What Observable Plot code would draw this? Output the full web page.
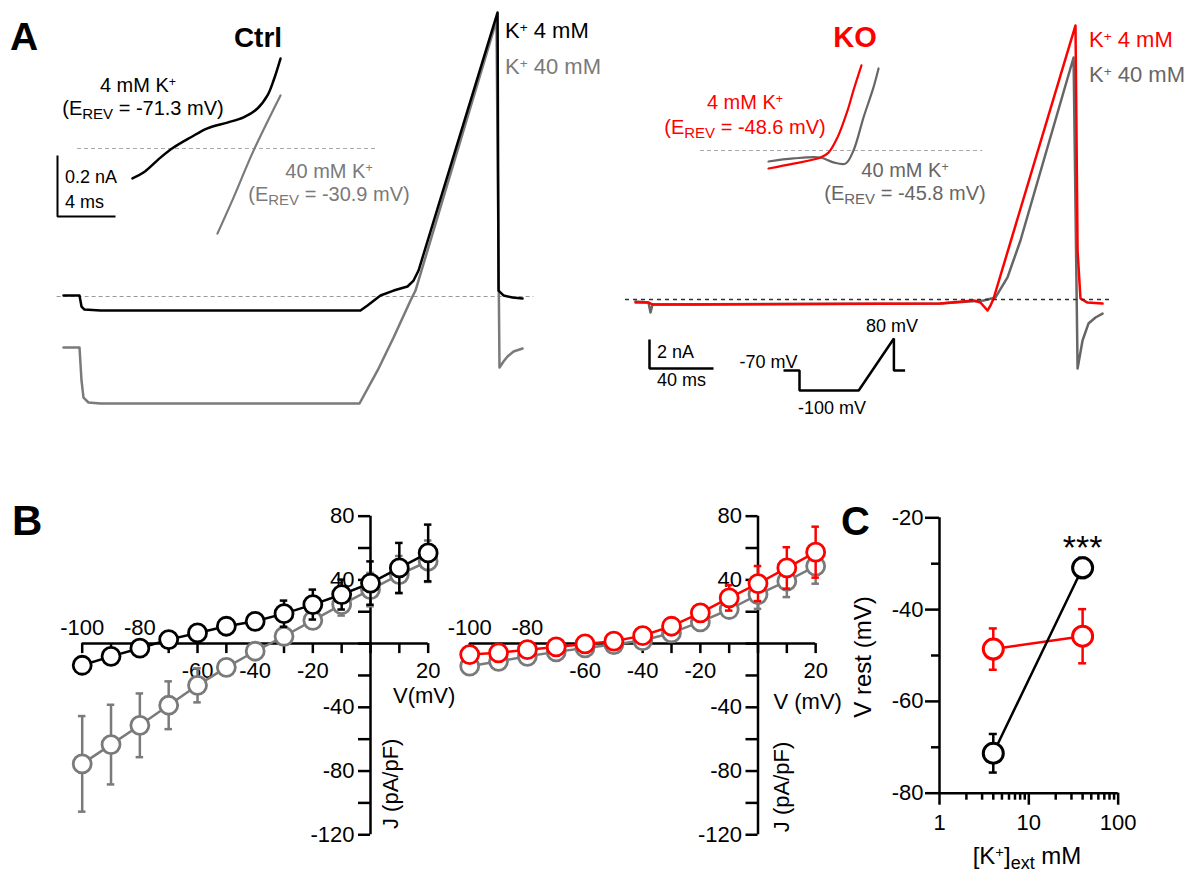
<!DOCTYPE html>
<html><head><meta charset="utf-8">
<script src="https://cdn.jsdelivr.net/npm/d3@7"></script>
<script src="https://cdn.jsdelivr.net/npm/@observablehq/plot@0.6"></script>
<style>
body{margin:0;background:#fff}
#fig{position:relative;width:1200px;height:873px;background:#fff;font-family:"Liberation Sans",Arial,sans-serif;overflow:hidden}
.lbl{position:absolute;white-space:nowrap;line-height:1}
.sup{position:relative;top:-0.45em;font-size:0.62em}
.sub{position:relative;top:0.25em;font-size:0.75em}
</style></head><body><div id="fig"></div><script>
// ---------------- DATA ----------------
// Panel A – whole-cell currents (time in ms, current in nA)
const ctrl4_t   = [0,10,11.25,13.1,23.1,185.6,190,198.1,206.3,215,218.8,221.9,271.3,271.9,275,280.6,286.9];
const ctrl4_nA  = [0.07,0.07,-0.69,-0.9,-0.97,-0.97,-0.62,0.07,0.41,0.69,1.1,1.79,19.59,0.41,0.07,-0.07,-0.14];
const ctrl40_t  = [0,10,11.25,12.5,15.6,23.1,185,196.3,206.3,216.9,220,270.6,272.5,275,277.5,281.3,286.9];
const ctrl40_nA = [-3.52,-3.52,-5.79,-6.97,-7.31,-7.38,-7.38,-5.1,-2.83,-0.28,0.41,19.03,-4.9,-4.48,-4.14,-3.79,-3.59];
const ko4_t     = [0,8.1,10.6,40.6,190.6,211.3,215.6,220,221.9,223.8,275,276.3,278.1,282.5,291.9];
const ko4_nA    = [-0.21,-0.21,-0.34,-0.34,-0.28,-0.07,-0.21,-0.76,-0.41,0.07,18.9,3.38,0.07,-0.21,-0.28];
const ko40_t    = [0,8.1,9.4,10.6,190.6,217.5,225,232.5,240.6,273.8,276.3,279.4,283.1,287.5,291.9];
const ko40_nA   = [-0.14,-0.21,-0.9,-0.34,-0.28,-0.07,0.14,1.52,4.07,16.69,-4.76,-2.83,-1.66,-1.24,-0.97];
// insets around the reversal potential (ms, nA)
const ctrl4In_t   = [5.17,5.93,7.1,8.0,9.17,10.34,11.72,12.83,13.79,14.48,14.9,15.38];
const ctrl4In_nA  = [-0.098,-0.079,-0.030,0.003,0.036,0.066,0.085,0.102,0.131,0.174,0.223,0.295];
const ctrl40In_t  = [11.03,12.14,13.52,15.38];
const ctrl40In_nA = [-0.279,-0.161,-0.007,0.174];
const ko4In_t     = [4.69,6.41,8.28,8.83,9.45,10.14,10.55,11.1];
const ko4In_nA    = [-0.059,-0.043,-0.023,-0.007,0.043,0.131,0.197,0.279];
const ko40In_t    = [4.69,6.41,8.28,9.17,10.0,10.55,11.24,11.93,12.28];
const ko40In_nA   = [-0.036,-0.026,-0.023,-0.039,-0.043,0,0.108,0.207,0.269];
// voltage protocol (schematic)
const protoT  = [0,10,10,47,69,69,76];
const protoMV = [-70,-70,-100,-100,80,-70,-70];
// scale bars
const mainBar  = {ms: 40, nA: 2};
const insetBar = {ms: 4, nA: 0.2};

// Panel B – I/V relations (mV, pA/pF)
const voltages   = [-100,-90,-80,-70,-60,-50,-40,-30,-20,-10,0,10,20];
const ctrl4_J    = [-13.6,-8,-2.9,2.5,6.7,10.9,14,18.8,24.5,30.8,38,47.5,56.9];
const ctrl4_err  = [2,2,2,2,2.5,3,5.2,8.2,9.4,9.4,13.6,15.7,17.8];
const ctrl40_J   = [-75.5,-63.4,-51.3,-38.7,-26.2,-14.9,-4.8,4.6,14.6,24.5,33.9,43.3,51.7];
const ctrl40_err = [30,25,20,15,10.7,3.5,2,2,3,6.9,10.5,11.7,13];
const ko4_J      = [-6.9,-5.8,-3.8,-2.1,-0.2,1.5,5,10.9,19.3,28.7,37.7,47.5,57.4];
const ko4_err    = [2,2,2,2,2,2,2,2,4,8,11,13,16];
const ko40_J     = [-14.2,-11.1,-8,-5.2,-2.7,-0.6,1.9,6.7,13.6,21.4,30.8,39.2,48.6];
const ko40_err   = [5,4,2,2,2,2,2,2,2,5,9,10,11];
const vTicks       = [-100,-90,-80,-70,-60,-50,-40,-30,-20,-10,0,10,20];
const vLabelsAbove = [-100,-80];
const vLabelsBelow = [-60,-40,-20,20];
const jTicks       = [-120,-100,-80,-60,-40,-20,0,20,40,60,80];
const jLabels      = [80,40,-40,-80,-120];

// Panel C – resting potential vs [K+]ext
const kExt        = [4, 40];
const ctrlVrest   = [-71.3, -30.9];
const ctrlVrestSE = [4.2, 2.2];
const koVrest     = [-48.6, -45.8];
const koVrestSE   = [4.5, 5.9];
const cYMajor = [-20,-40,-60,-80];
const cYMinor = [-30,-50,-70];
const cXMajor = [1,10,100];
const cXMinor = [2,3,4,5,6,7,8,9,20,30,40,50,60,70,80,90];

// ---------------- DRAWING ----------------
const FONT = '"Liberation Sans", Arial, sans-serif';
const RED = "#ff0000", GRAY = "#7a7a7a", GRAY2 = "#666";
const fig = document.getElementById("fig");
const rows = (t, v) => t.map((d, i) => ({t: d, v: v[i]}));
function put(svg, left, top) {
  svg.style.position = "absolute"; svg.style.left = left + "px"; svg.style.top = top + "px";
  fig.appendChild(svg);
}
function linPlot(box, x0, y0, kx, ky, marks) {
  const {left, top, width, height} = box;
  const svg = Plot.plot({
    width, height, margin: 0,
    x: {domain: [(left - x0) / kx, (left + width - x0) / kx], range: [0, width], axis: null},
    y: {domain: [(y0 - top - height) / ky, (y0 - top) / ky], range: [height, 0], axis: null},
    style: {background: "transparent", overflow: "visible", fontFamily: FONT},
    marks
  });
  put(svg, left, top);
}
function bar(t0, v0, b, sw) {
  return Plot.line([{t: t0, v: v0 + b.nA}, {t: t0, v: v0}, {t: t0 + b.ms, v: v0}],
    {x: "t", y: "v", stroke: "#000", strokeWidth: sw, strokeLinejoin: "miter", strokeLinecap: "butt"});
}
const tr = (t, v, stroke, sw, curve = "linear") => Plot.line(rows(t, v), {x: "t", y: "v", stroke, strokeWidth: sw, curve});

// A – Ctrl main traces
linPlot({left: 40, top: 0, width: 520, height: 430}, 63, 296, 1.6, 14.5, [
  Plot.ruleY([0], {x1: -4, x2: 294, stroke: "#999", strokeWidth: 1, strokeDasharray: "4,3"}),
  tr(ctrl40_t, ctrl40_nA, GRAY, 2.5),
  tr(ctrl4_t, ctrl4_nA, "#000", 2.5)
]);
// A – Ctrl inset
linPlot({left: 40, top: 40, width: 360, height: 210}, 57, 148, 14.5, 305, [
  Plot.ruleY([0], {x1: 1.38, x2: 22.14, stroke: "#aaa", strokeWidth: 1, strokeDasharray: "4,3"}),
  tr(ctrl40In_t, ctrl40In_nA, GRAY, 2.2, "catmull-rom"),
  tr(ctrl4In_t, ctrl4In_nA, "#000", 2.5, "catmull-rom"),
  bar(0, -0.223, insetBar, 2)
]);
// A – KO main traces
linPlot({left: 600, top: 0, width: 540, height: 430}, 635, 299, 1.6, 14.5, [
  tr(ko40_t, ko40_nA, GRAY2, 2.5),
  tr(ko4_t, ko4_nA, RED, 2.5),
  Plot.ruleY([0], {x1: -6.25, x2: 298, stroke: "#333", strokeWidth: 1.6, strokeDasharray: "4,4"}),
  bar(8.75, -4.76, mainBar, 2.5)
]);
// A – KO inset
linPlot({left: 690, top: 40, width: 310, height: 150}, 700, 150, 14.5, 305, [
  Plot.ruleY([0], {x1: 0, x2: 19.45, stroke: "#aaa", strokeWidth: 1, strokeDasharray: "4,3"}),
  tr(ko40In_t, ko40In_nA, GRAY2, 2.2, "catmull-rom"),
  tr(ko4In_t, ko4In_nA, RED, 2.2, "catmull-rom")
]);
// A – voltage protocol (schematic, not to scale: steps drawn larger than the ramp)
{
  const left = 770, top = 318, width = 170, height = 100;
  const proto = protoT.map((t, i) => ({t, mV: protoMV[i]}));
  const level = v => v <= -70 ? (v + 100) * 20 / 30 : 20 + (v + 70) * 32 / 150;
  const svg = Plot.plot({
    width, height, margin: 0,
    x: {domain: [(left - 783) / 1.6, (left + width - 783) / 1.6], range: [0, width], axis: null},
    y: {transform: level, domain: [0, 52], range: [72, 20], axis: null},
    style: {background: "transparent", overflow: "visible", fontFamily: FONT},
    marks: [
      Plot.line(proto, {x: "t", y: "mV", stroke: "#000", strokeWidth: 2.5, strokeLinejoin: "miter", strokeLinecap: "butt"}),
      Plot.text([proto[0]], {x: "t", y: "mV", text: d => d.mV + " mV", dx: -15, dy: -8, fontSize: 18}),
      Plot.text([proto[4]], {x: "t", y: "mV", text: d => d.mV + " mV", dx: -2, dy: -12, fontSize: 18}),
      Plot.text([{t: (proto[2].t + proto[3].t) / 2, mV: proto[2].mV}], {x: "t", y: "mV", text: d => d.mV + " mV", dx: 3, dy: 18, fontSize: 18})
    ]
  });
  put(svg, left, top);
}

// B – I/V panels
function ivPanel(left, width, x0, series, vText, vdx, vdy, jdx, jy) {
  const kx = 2.883, ky = 1.593, y0 = 643.1, top = 500, height = 373;
  const marks = [
    Plot.ruleY([0], {x1: vTicks[0], x2: vTicks[vTicks.length - 1], strokeWidth: 2.5}),
    Plot.ruleX(vTicks, {x: d => d, y1: 0, y2: -10 / ky, strokeWidth: 2.5}),
    Plot.ruleX([0], {y1: jTicks[0], y2: jTicks[jTicks.length - 1], strokeWidth: 2.5}),
    Plot.ruleY(jTicks, {y: d => d, x1: 0, x2: -12 / kx, strokeWidth: 2.5}),
    Plot.text(vLabelsAbove, {x: d => d, y: 0, text: d => String(d), dy: -16, fontSize: 22}),
    Plot.text(vLabelsBelow, {x: d => d, y: 0, text: d => String(d), dy: 27, fontSize: 22}),
    Plot.text(jLabels, {x: 0, y: d => d, text: d => String(d), dx: -16, textAnchor: "end", fontSize: 22}),
    Plot.text([vText], {x: 20, y: 0, text: d => d, dx: vdx, dy: vdy, fontSize: 22}),
    Plot.text(["J (pA/pF)"], {x: 0, y: jy, text: d => d, dx: jdx, rotate: -90, fontSize: 22})
  ];
  for (const s of series) {
    const d = voltages.map((v, i) => ({v, J: s.J[i], e: s.err[i]}));
    marks.push(
      Plot.ruleX(d, {x: "v", y1: d => d.J - d.e, y2: d => d.J + d.e, stroke: s.color, strokeWidth: 2.5}),
      Plot.ruleY(d, {y: d => d.J + d.e, x1: d => d.v - 1.3, x2: d => d.v + 1.3, stroke: s.color, strokeWidth: 2.5}),
      Plot.ruleY(d, {y: d => d.J - d.e, x1: d => d.v - 1.3, x2: d => d.v + 1.3, stroke: s.color, strokeWidth: 2.5}),
      Plot.line(d, {x: "v", y: "J", stroke: s.color, strokeWidth: 2.5}),
      Plot.dot(d, {x: "v", y: "J", r: 9, fill: "white", stroke: s.color, strokeWidth: 2.8})
    );
  }
  linPlot({left, top, width, height}, x0, y0, kx, ky, marks);
}
ivPanel(40, 440, 370, [{J: ctrl40_J, err: ctrl40_err, color: GRAY}, {J: ctrl4_J, err: ctrl4_err, color: "#000"}], "V(mV)", -4, 52, 20, -88);
ivPanel(440, 420, 757.5, [{J: ko40_J, err: ko40_err, color: GRAY}, {J: ko4_J, err: ko4_err, color: RED}], "V (mV)", -8, 58, 24, -90);

// C – V rest vs [K+]
{
  const left = 840, top = 500, width = 310, height = 373;
  const xAt = p => 10 ** ((p - 939) / 89.33);
  const vAt = p => -20 - (p - 517.3) / 4.59;
  const ky = 4.59, dec = 89.33;
  const ser = (V, E, color) => {
    const d = kExt.map((k, i) => ({k, v: V[i], e: E[i]}));
    const f = 10 ** (4 / dec);
    return [
      Plot.ruleX(d, {x: "k", y1: d => d.v - d.e, y2: d => d.v + d.e, stroke: color, strokeWidth: 2.5}),
      Plot.ruleY(d, {y: d => d.v + d.e, x1: d => d.k / f, x2: d => d.k * f, stroke: color, strokeWidth: 2.5}),
      Plot.ruleY(d, {y: d => d.v - d.e, x1: d => d.k / f, x2: d => d.k * f, stroke: color, strokeWidth: 2.5}),
      Plot.line(d, {x: "k", y: "v", stroke: color, strokeWidth: 2.5}),
      Plot.dot(d, {x: "k", y: "v", r: 10, fill: "white", stroke: color, strokeWidth: 3})
    ];
  };
  const svg = Plot.plot({
    width, height, margin: 0,
    x: {type: "log", domain: [xAt(left), xAt(left + width)], range: [0, width], axis: null},
    y: {domain: [vAt(top + height), vAt(top)], range: [height, 0], axis: null},
    style: {background: "transparent", overflow: "visible", fontFamily: FONT},
    marks: [
      Plot.ruleX([cXMajor[0]], {y1: cYMajor[cYMajor.length - 1], y2: cYMajor[0], strokeWidth: 2.5}),
      Plot.ruleY([cYMajor[cYMajor.length - 1]], {x1: cXMajor[0], x2: cXMajor[cXMajor.length - 1], strokeWidth: 2.5}),
      Plot.ruleY(cYMajor, {y: d => d, x1: 1, x2: 1 / 10 ** (14 / dec), strokeWidth: 2.5}),
      Plot.ruleY(cYMinor, {y: d => d, x1: 1, x2: 1 / 10 ** (8 / dec), strokeWidth: 2.5}),
      Plot.ruleX(cXMajor, {x: d => d, y1: -80, y2: -80 - 12 / ky, strokeWidth: 2.5}),
      Plot.ruleX(cXMinor, {x: d => d, y1: -80, y2: -80 - 7 / ky, strokeWidth: 2.5}),
      Plot.text(cYMajor, {x: 1, y: d => d, text: d => String(d), dx: -16, textAnchor: "end", fontSize: 22}),
      Plot.text(cXMajor, {x: d => d, y: -80, text: d => String(d), dy: 30, fontSize: 22}),
      ...ser(koVrest, koVrestSE, RED),
      ...ser(ctrlVrest, ctrlVrestSE, "#000"),
      Plot.text([{k: kExt[1], v: ctrlVrest[1]}], {x: "k", y: "v", text: () => "***", dy: -20, fontSize: 34})
    ]
  });
  put(svg, left, top);
}

// ---------------- TEXT ----------------
function label(html, x, y, o = {}) {
  const el = document.createElement("div");
  el.className = "lbl"; el.innerHTML = html;
  el.style.left = x + "px"; el.style.top = y + "px";
  el.style.fontSize = (o.size || 20) + "px";
  el.style.color = o.color || "#000";
  el.style.fontWeight = o.weight || "normal";
  const tx = o.anchor === "start" ? "0" : "-50%";
  el.style.transform = `translate(${tx},-50%)` + (o.rotate ? ` rotate(${o.rotate}deg)` : "");
  fig.appendChild(el);
}
const Kp = 'K<span class="sup">+</span>';
const Erev = v => `(E<span class="sub">REV</span> = ${v} mV)`;
label("A", 10, 36, {size: 39, weight: "bold", anchor: "start"});
label("B", 12, 521, {size: 42, weight: "bold", anchor: "start"});
label("C", 841, 521, {size: 40, weight: "bold", anchor: "start"});
label("Ctrl", 258, 38, {size: 28, weight: "bold"});
label("KO", 855, 37, {size: 29, weight: "bold", color: RED});
label(`4 mM ${Kp}`, 138, 85);
label(Erev("-71.3"), 143, 108);
label(`40 mM ${Kp}`, 329, 171, {color: GRAY});
label(Erev("-30.9"), 329, 194, {color: GRAY});
label("0.2 nA", 65, 177, {size: 18, anchor: "start"});
label("4 ms", 65, 202, {size: 18, anchor: "start"});
label(`${Kp} 4 mM`, 505, 31, {size: 22, anchor: "start"});
label(`${Kp} 40 mM`, 505, 67, {size: 22, anchor: "start", color: GRAY});
label(`4 mM ${Kp}`, 745, 102, {color: RED});
label(Erev("-48.6"), 745, 127, {color: RED});
label(`40 mM ${Kp}`, 905, 170, {color: GRAY2});
label(Erev("-45.8"), 905, 193, {color: GRAY2});
label(`${Kp} 4 mM`, 1089, 40, {size: 22, anchor: "start", color: RED});
label(`${Kp} 40 mM`, 1089, 75, {size: 22, anchor: "start", color: GRAY2});
label("2 nA", 657, 352, {size: 18, anchor: "start"});
label("40 ms", 657, 380, {size: 18, anchor: "start"});
label("V rest (mV)", 863, 657, {size: 24, rotate: -90});
label(`[${Kp}]<span class="sub">ext</span> mM`, 1027, 856, {size: 24});
</script></body></html>
